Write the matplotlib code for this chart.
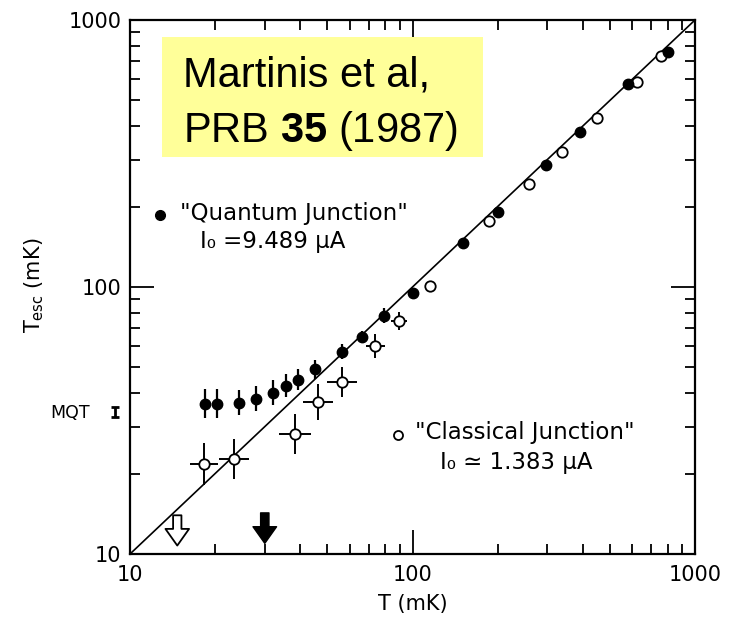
import numpy as np
import matplotlib
matplotlib.use("Agg")
import matplotlib.pyplot as plt
from matplotlib.patches import Rectangle

plt.rcParams['font.family'] = ['DejaVu Sans']
plt.rcParams['mathtext.fontset'] = 'custom'
plt.rcParams['mathtext.rm'] = 'Liberation Sans'
plt.rcParams['mathtext.bf'] = 'Liberation Sans:bold'

# "Quantum Junction" (filled), T in mK, T_esc in mK, error in decades
quantum_T = [18.5, 20.4, 24.3, 28.0, 32.1, 35.8, 39.4, 45.3, 56.3, 66.3, 79.2, 100.5,
             151, 201, 296, 393, 581, 800]
quantum_Tesc = [36.5, 36.5, 36.8, 38.2, 40.2, 42.7, 44.9, 49.2, 57.3, 64.8, 78.2, 95.2,
                146, 191, 286, 381, 578, 760]
quantum_dlog = [0.054, 0.054, 0.047, 0.047, 0.047, 0.043, 0.039, 0.035, 0.027, 0.023,
                0.027, 0.019, 0, 0, 0, 0, 0, 0]

# "Classical Junction" (open)
classical_T = [18.3, 23.3, 38.3, 46.2, 56.5, 73.9, 89.6, 115, 186, 258, 338, 451, 622, 761]
classical_Tesc = [21.7, 22.6, 28.1, 37.0, 44.2, 60.3, 74.5, 100.7, 177, 243, 320, 428, 585, 733]
classical_dlog_y = [0.079, 0.075, 0.075, 0.067, 0.056, 0.045, 0.034, 0.015, 0, 0, 0, 0, 0, 0]
classical_dlog_x = [0.050, 0.053, 0.057, 0.053, 0.053, 0.035, 0.028, 0, 0, 0, 0, 0, 0, 0]

# T_esc = T line
line_T = [10, 1000]

# MQT prediction and crossover arrows
mqt_T = 8.85
mqt_Tesc = 34.0
mqt_err = 1.4
arrow_open_T = 14.7
arrow_filled_T = 30.0


def log_err(vals, dlog):
    v = np.asarray(vals, float)
    d = np.asarray(dlog, float)
    return [v * (1 - 10 ** -d), v * (10 ** d - 1)]


fig = plt.figure(figsize=(7.31, 6.21), dpi=100)
ax = fig.add_axes([130 / 731, 67 / 621, 565 / 731, 534 / 621])
ax.set_xscale('log')
ax.set_yscale('log')
ax.set_xlim(10, 1000)
ax.set_ylim(10, 1000)

ax.plot(line_T, line_T, color='black', lw=1.2, zorder=2)

ax.errorbar(classical_T, classical_Tesc,
            yerr=log_err(classical_Tesc, classical_dlog_y),
            xerr=log_err(classical_T, classical_dlog_x),
            fmt='o', ms=7.5, mfc='white', mec='black', mew=1.3,
            ecolor='black', elinewidth=1.4, capsize=0, zorder=3)
ax.errorbar(quantum_T, quantum_Tesc,
            yerr=log_err(quantum_Tesc, quantum_dlog),
            fmt='o', ms=7.5, mfc='black', mec='black',
            ecolor='black', elinewidth=1.6, capsize=0, zorder=4)

# MQT marker outside the axis
ax.errorbar([mqt_T], [mqt_Tesc], yerr=[mqt_err], fmt='none', ecolor='black',
            elinewidth=2, capsize=3, capthick=2, clip_on=False)
fig.text(50 / 731, 1 - 413 / 621, 'MQT', fontsize=12.5, ha='left', va='center')

# arrows
arrow_style = 'simple,head_width=1.7,head_length=1.2,tail_width=0.6'
ax.annotate('', xy=(arrow_open_T, 10.5), xytext=(arrow_open_T, 14.3),
            arrowprops=dict(arrowstyle=arrow_style, fc='white', ec='black', lw=1.3))
ax.annotate('', xy=(arrow_filled_T, 10.7), xytext=(arrow_filled_T, 14.6),
            arrowprops=dict(arrowstyle=arrow_style, fc='black', ec='black', lw=1.0))

# axes styling
for s in ax.spines.values():
    s.set_linewidth(1.6)
ax.tick_params(which='both', direction='in', top=True, right=True, width=1.3)
ax.tick_params(which='major', length=17, labelsize=15, pad=8)
ax.tick_params(which='minor', length=7)
ax.tick_params(axis='y', which='major', pad=6)
ax.set_xticks([10, 100, 1000])
ax.set_xticklabels(['10', '100', '1000'])
ax.set_yticks([10, 100, 1000])
ax.set_yticklabels(['10', '100', '1000'])

fig.text(34 / 731, 1 - 285 / 621, r'T$_\mathregular{esc}$ (mK)', rotation=90,
         fontsize=15, ha='center', va='center')
fig.text(413 / 731, 1 - 604 / 621, 'T (mK)', fontsize=15, ha='center', va='center')

# legend-like annotations
ax.plot([0.053], [0.635], 'o', ms=7, color='black', transform=ax.transAxes, clip_on=False)
ax.text(0.088, 0.637, '"Quantum Junction"', transform=ax.transAxes, fontsize=16.5,
        va='center', ha='left')
ax.text(0.124, 0.585, 'I₀ =9.489 μA', transform=ax.transAxes, fontsize=16.5,
        va='center', ha='left')
ax.plot([0.474], [0.223], 'o', ms=6.5, mfc='white', mec='black', mew=1.3,
        transform=ax.transAxes)
ax.text(0.505, 0.227, '"Classical Junction"', transform=ax.transAxes, fontsize=16.5,
        va='center', ha='left')
ax.text(0.548, 0.172, 'I₀ ≃ 1.383 μA', transform=ax.transAxes, fontsize=16.5,
        va='center', ha='left')

# citation box
fig.patches.append(Rectangle((162 / 731, 1 - 157 / 621), 321 / 731, 120 / 621,
                             transform=fig.transFigure, facecolor='#ffff99',
                             edgecolor='none', zorder=5))
fig.text(183 / 731, 1 - 76 / 621, 'Martinis et al,', fontsize=30,
         family='Liberation Sans', ha='left', va='center', zorder=6)
fig.text(183 / 731, 1 - 131 / 621, r'PRB $\mathbf{35}$ (1987)', fontsize=30,
         family='Liberation Sans', ha='left', va='center', zorder=6)

fig.savefig('out.png', dpi=100)
